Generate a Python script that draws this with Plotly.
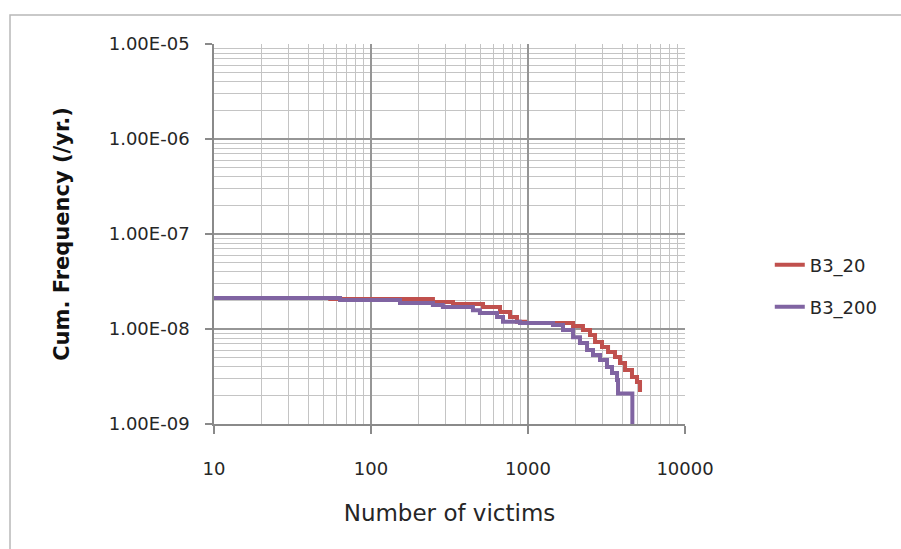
import plotly.graph_objects as go

# ---- data ----
red_name = "B3_20"
red_x = [10, 55, 248, 333, 517, 663, 768, 851, 957, 1936, 2239, 2483, 2673,
         2960, 3235, 3581, 3855, 4150, 4595, 4945, 5170]
red_y = [2.12e-8, 2.07e-8, 1.92e-8, 1.83e-8, 1.70e-8, 1.51e-8, 1.34e-8, 1.19e-8,
         1.16e-8, 1.076e-8, 9.76e-9, 8.65e-9, 7.3e-9, 6.47e-9, 5.73e-9, 5.07e-9,
         4.39e-9, 3.70e-9, 3.12e-9, 2.77e-9, 2.17e-9]

purple_name = "B3_200"
purple_x = [10, 63.5, 153, 248, 287, 446, 494, 635, 693, 889, 1443, 1671, 1936,
            2143, 2377, 2594, 2876, 3185, 3428, 3690, 3745, 4620]
purple_y = [2.12e-8, 2.02e-8, 1.88e-8, 1.79e-8, 1.70e-8, 1.58e-8, 1.47e-8,
            1.34e-8, 1.19e-8, 1.16e-8, 1.10e-8, 9.76e-9, 8.2e-9, 7.12e-9,
            6.01e-9, 5.32e-9, 4.72e-9, 3.98e-9, 3.44e-9, 2.9e-9, 2.1e-9, 1.0e-9]

x_tick_vals = [10, 100, 1000, 10000]
x_tick_text = ["10", "100", "1000", "10000"]
y_tick_vals = [1e-9, 1e-8, 1e-7, 1e-6, 1e-5]
y_tick_text = ["1.00E-09", "1.00E-08", "1.00E-07", "1.00E-06", "1.00E-05"]

x_title = "Number of victims"
y_title = "Cum. Frequency (/yr.)"

FONT = "DejaVu Sans"
TXT = "#262626"

fig = go.Figure()
fig.add_trace(go.Scatter(x=red_x, y=red_y, name=red_name, mode="lines",
                         line=dict(color="#C0504D", width=4, shape="hv"),
                         legend="legend"))
fig.add_trace(go.Scatter(x=purple_x, y=purple_y, name=purple_name, mode="lines",
                         line=dict(color="#8064A2", width=4, shape="hv"),
                         legend="legend2"))

grid_major = "#969696"
grid_minor = "#c4c4c4"

fig.update_xaxes(type="log", range=[1, 4], tickvals=x_tick_vals, ticktext=x_tick_text,
                 showgrid=True, gridcolor=grid_major, gridwidth=1.6,
                 showline=True, linecolor="#8a8a8a", linewidth=1.6, mirror=False,
                 ticks="outside", ticklen=8, tickcolor="#8a8a8a", tickwidth=1.5,
                 ticklabelstandoff=20,
                 minor=dict(dtick="D1", showgrid=True, gridcolor=grid_minor, gridwidth=1.3),
                 tickfont=dict(family=FONT, size=18, color=TXT),
                 title=dict(text=x_title, font=dict(family=FONT, size=23, color=TXT), standoff=26),
                 zeroline=False)
fig.update_yaxes(type="log", range=[-9, -5], tickvals=y_tick_vals, ticktext=y_tick_text,
                 showgrid=True, gridcolor=grid_major, gridwidth=1.6,
                 showline=True, linecolor="#8a8a8a", linewidth=1.6,
                 ticks="outside", ticklen=7, tickcolor="#8a8a8a", tickwidth=1.5,
                 ticklabelstandoff=12,
                 minor=dict(dtick="D1", showgrid=True, gridcolor=grid_minor, gridwidth=1.3),
                 tickfont=dict(family=FONT, size=18, color=TXT),
                 title=dict(text="<b>" + y_title + "</b>", font=dict(family=FONT, size=21, color="#111111"), standoff=33),
                 zeroline=False)

fig.update_layout(
    width=901, height=549,
    margin=dict(l=214, r=216, t=44, b=125),
    paper_bgcolor="white", plot_bgcolor="white",
    showlegend=True,
    legend=dict(x=1.18, y=0.418, xanchor="left", yanchor="middle",
                font=dict(family=FONT, size=18, color=TXT), bgcolor="rgba(0,0,0,0)"),
    legend2=dict(x=1.18, y=0.308, xanchor="left", yanchor="middle",
                 font=dict(family=FONT, size=18, color=TXT), bgcolor="rgba(0,0,0,0)"),
    shapes=[dict(type="rect", xref="paper", yref="paper",
                 x0=-0.4331, x1=1.6, y0=-1.0, y1=1.0763,
                 line=dict(color="#b8b8b8", width=1.5), fillcolor="rgba(0,0,0,0)", layer="below")],
)

fig.write_html("out.html")
